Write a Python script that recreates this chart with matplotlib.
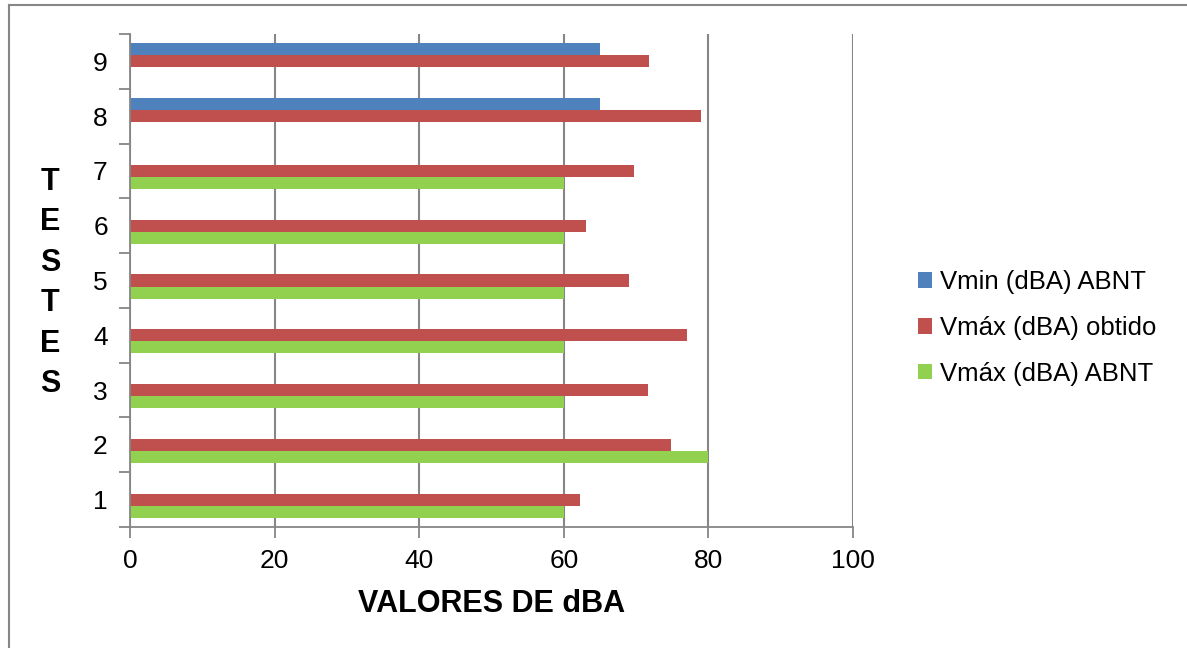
import numpy as np
import matplotlib.pyplot as plt
from matplotlib.lines import Line2D

plt.rcParams['font.family'] = ['Liberation Sans', 'DejaVu Sans']

testes = [1, 2, 3, 4, 5, 6, 7, 8, 9]
vmin_abnt = [np.nan, np.nan, np.nan, np.nan, np.nan, np.nan, np.nan, 65, 65]
vmax_obtido = [62.3, 74.8, 71.6, 77.0, 69.0, 63.1, 69.7, 79.0, 71.8]
vmax_abnt = [60, 80, 60, 60, 60, 60, 60, np.nan, np.nan]

grey = "#868686"
fig = plt.figure(figsize=(11.87, 6.48), dpi=100)
ax = fig.add_axes([130/1187, 1-527/648, (853-130)/1187, (527-34)/648])

h = 0.22
y = np.array(testes)
ax.barh(y + h, vmin_abnt, height=h, color="#4F81BD", label="Vmin (dBA) ABNT")
ax.barh(y, vmax_obtido, height=h, color="#C0504D", label="Vmáx (dBA) obtido")
ax.barh(y - h, vmax_abnt, height=h, color="#92D050", label="Vmáx (dBA) ABNT")

ax.set_xlim(0, 100)
ax.set_ylim(0.5, 9.5)
ax.set_xticks([0, 20, 40, 60, 80, 100])
ax.set_yticks(testes)
ax.set_yticks(np.arange(0.5, 10, 1), minor=True)
ax.tick_params(axis="y", which="major", length=0, pad=16, labelsize=19)
ax.tick_params(axis="y", which="minor", length=8, width=1.3, color=grey)
ax.tick_params(axis="x", length=8, width=1.3, color=grey, pad=8, labelsize=19)
ax.xaxis.grid(True, color=grey, linewidth=1.5)
ax.set_axisbelow(True)
for s in ["top", "right"]:
    ax.spines[s].set_visible(False)
for s in ["left", "bottom"]:
    ax.spines[s].set_color(grey)
    ax.spines[s].set_linewidth(1.3)

ax.set_xlabel("VALORES DE dBA", fontsize=22, fontweight="bold", labelpad=11)
fig.text(50/1187, 1-283/648, "T\nE\nS\nT\nE\nS", fontsize=22, fontweight="bold",
         ha="center", va="center", linespacing=1.45)

handles, labels = ax.get_legend_handles_labels()
ax.legend(handles, labels, loc="center left", bbox_to_anchor=(895/1187, 1-328/648),
          bbox_transform=fig.transFigure, frameon=False, fontsize=18.5,
          handlelength=0.55, handleheight=0.55, handletextpad=0.3, labelspacing=0.85)

# outer chart border
fig.add_artist(Line2D([9/1187, 9/1187], [0, 1-5/648], color=grey, linewidth=1.5))
fig.add_artist(Line2D([9/1187, 1186/1187], [1-5/648, 1-5/648], color=grey, linewidth=1.5))

fig.savefig("out.png", dpi=100)
